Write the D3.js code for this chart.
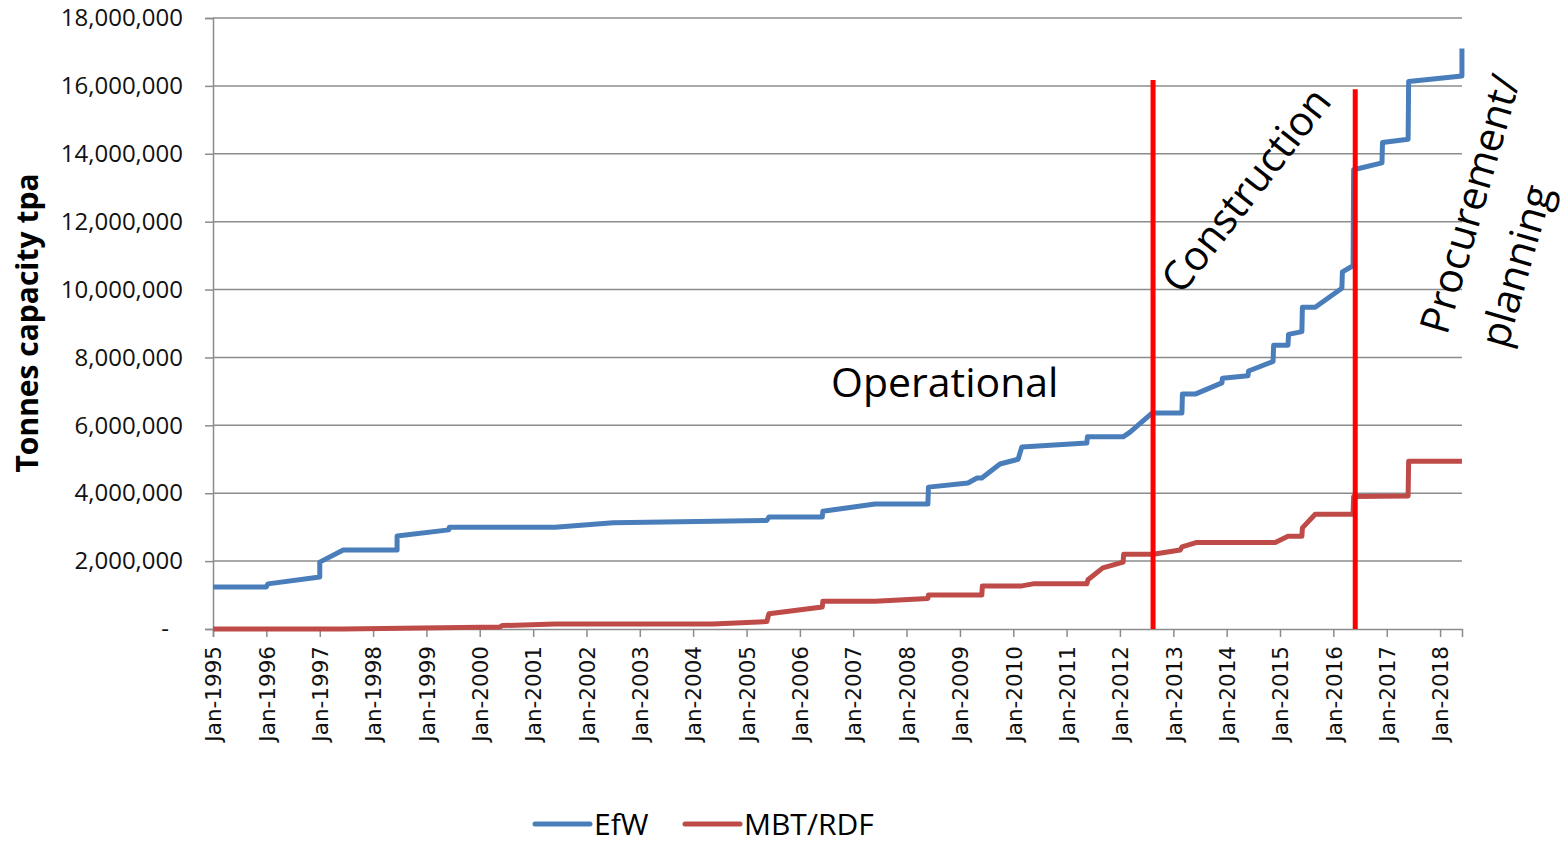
<!DOCTYPE html>
<html>
<head>
<meta charset="utf-8">
<script src="https://cdn.jsdelivr.net/npm/d3@7"></script>
<style>
  body { margin: 0; background: #fff; }
  svg { display: block; }
</style>
</head>
<body>
<div id="chart"></div>
<script>
// decimal years (pairs at the same date make the steps)
var efwYears = [1995.00, 1996.00, 1996.03, 1997.00, 1997.00, 1997.44, 1998.45, 1998.45,
    1999.42, 1999.43, 2001.41, 2002.50, 2005.38, 2005.42, 2006.42, 2006.43, 2007.41,
    2008.40, 2008.41, 2009.15, 2009.32, 2009.41, 2009.75, 2010.09, 2010.16, 2011.38,
    2011.39, 2012.06, 2012.19, 2012.60, 2013.16, 2013.17, 2013.41, 2013.91, 2013.92,
    2014.40, 2014.41, 2014.87, 2014.88, 2015.15, 2015.16, 2015.41, 2015.42, 2015.66,
    2016.16, 2016.17, 2016.37, 2016.38, 2016.91, 2016.92, 2017.40, 2017.41, 2018.41, 2018.41];
var efwValues = [1240000, 1240000, 1330000, 1530000, 1970000, 2330000, 2330000, 2740000,
    2920000, 3000000, 3000000, 3130000, 3200000, 3300000, 3300000, 3470000, 3680000,
    3680000, 4180000, 4300000, 4450000, 4450000, 4860000, 5000000, 5360000, 5480000,
    5660000, 5660000, 5800000, 6360000, 6360000, 6920000, 6920000, 7250000, 7390000,
    7460000, 7600000, 7880000, 8360000, 8360000, 8680000, 8760000, 9480000, 9480000,
    10040000, 10520000, 10700000, 13530000, 13730000, 14330000, 14430000, 16130000, 16290000, 17100000];

var mbtYears = [1995.00, 1997.44, 2000.38, 2000.42, 2001.41, 2004.37, 2005.38, 2005.42,
    2006.42, 2006.43, 2007.41, 2008.40, 2008.41, 2009.41, 2009.42, 2010.16, 2010.37,
    2011.38, 2011.40, 2011.68, 2012.06, 2012.07, 2012.62, 2013.13, 2013.16, 2013.44,
    2014.91, 2015.15, 2015.41, 2015.42, 2015.66, 2016.37, 2016.38, 2017.40, 2017.41, 2018.41];
var mbtValues = [0, 0, 60000, 100000, 150000, 150000, 220000, 450000,
    650000, 820000, 820000, 900000, 1000000, 1000000, 1270000, 1270000, 1330000,
    1330000, 1450000, 1800000, 1970000, 2200000, 2200000, 2330000, 2420000, 2550000,
    2550000, 2730000, 2730000, 2980000, 3380000, 3380000, 3900000, 3920000, 4940000, 4940000];

// stage dividers: [decimal year, top value]
var stageLines = [[2012.62, 16170000], [2016.41, 15900000]];

var yTicks = [0, 2000000, 4000000, 6000000, 8000000, 10000000, 12000000, 14000000, 16000000, 18000000];
var xTickYears = d3.range(1995, 2019);

function toDate(y) {
    var yr = Math.floor(y);
    var a = new Date(yr, 0, 1), b = new Date(yr + 1, 0, 1);
    return new Date(a.getTime() + (y - yr) * (b - a));
}

var width = 1567, height = 844;
var margin = { left: 213, right: 105, top: 18, bottom: 215 };

var svg = d3.select("#chart").append("svg")
    .attr("width", width)
    .attr("height", height);

var x = d3.scaleTime()
    .domain([new Date(1995, 0, 1), new Date(2018, 4, 31)])
    .range([margin.left, width - margin.right]);

var y = d3.scaleLinear()
    .domain([0, 18000000])
    .range([height - margin.bottom, margin.top]);

var gridColor = "#8c8c8c";

// gridlines
svg.append("g").selectAll("line")
    .data(yTicks.slice(1))
    .enter().append("line")
    .attr("x1", margin.left)
    .attr("x2", width - margin.right)
    .attr("y1", d => y(d))
    .attr("y2", d => y(d))
    .attr("stroke", gridColor)
    .attr("stroke-width", 1.5);

// y axis
var yAxis = svg.append("g")
    .attr("transform", "translate(" + margin.left + ",0)")
    .call(d3.axisLeft(y).tickValues(yTicks).tickSize(8).tickPadding(22)
        .tickFormat(d => d === 0 ? "-" : d3.format(",")(d)));
yAxis.select(".domain").attr("stroke", gridColor).attr("stroke-width", 1.5);
yAxis.selectAll(".tick line").attr("stroke", gridColor).attr("stroke-width", 1.5);
yAxis.selectAll("text")
    .attr("font-family", "'Open Sans', sans-serif")
    .attr("font-size", "24px")
    .attr("fill", "#111");
yAxis.selectAll(".tick").filter(d => d === 0).select("text").attr("dx", "-14px");

// x axis
var xAxis = svg.append("g")
    .attr("transform", "translate(0," + y(0) + ")")
    .call(d3.axisBottom(x).tickValues(xTickYears.map(d => new Date(d, 0, 1)))
        .tickSize(8).tickFormat(d3.timeFormat("Jan-%Y")));
xAxis.select(".domain").attr("stroke", gridColor).attr("stroke-width", 1.5);
xAxis.selectAll(".tick line").attr("stroke", gridColor).attr("stroke-width", 1.5);
xAxis.selectAll("text")
    .attr("font-family", "'DejaVu Sans', sans-serif")
    .attr("font-size", "21.5px")
    .attr("fill", "#111")
    .attr("text-anchor", "end")
    .attr("transform", "rotate(-90)")
    .attr("x", -17)
    .attr("y", 0)
    .attr("dy", "0.36em");

// series
var line = d3.line()
    .x(d => x(toDate(d[0])))
    .y(d => y(d[1]));

var series = [
    { name: "EfW", color: "#4a7ebb", pts: d3.zip(efwYears, efwValues) },
    { name: "MBT/RDF", color: "#be4b48", pts: d3.zip(mbtYears, mbtValues) }
];

svg.append("g").selectAll("path")
    .data(series)
    .enter().append("path")
    .attr("d", d => line(d.pts))
    .attr("fill", "none")
    .attr("stroke", d => d.color)
    .attr("stroke-width", 5)
    .attr("stroke-linejoin", "round");

// stage divider lines
svg.append("g").selectAll("line")
    .data(stageLines)
    .enter().append("line")
    .attr("x1", d => x(toDate(d[0])))
    .attr("x2", d => x(toDate(d[0])))
    .attr("y1", y(0))
    .attr("y2", d => y(d[1]))
    .attr("stroke", "#ff0000")
    .attr("stroke-width", 5);

// annotations
var ann = svg.append("g")
    .attr("font-family", "'Open Sans', sans-serif")
    .attr("font-size", "41px")
    .attr("fill", "#000");

ann.append("text")
    .attr("x", 831)
    .attr("y", 397)
    .text("Operational");

ann.append("text")
    .attr("text-anchor", "middle")
    .attr("dy", "0.35em")
    .attr("transform", "translate(1246,190) rotate(-52)")
    .text("Construction");

ann.append("text")
    .attr("text-anchor", "middle")
    .attr("dy", "0.35em")
    .attr("transform", "translate(1470,204) rotate(-74)")
    .text("Procurement/");

ann.append("text")
    .attr("text-anchor", "middle")
    .attr("dy", "0.35em")
    .attr("transform", "translate(1516,266) rotate(-74)")
    .text("planning");

// y axis title
svg.append("text")
    .attr("transform", "translate(27,323) rotate(-90)")
    .attr("text-anchor", "middle")
    .attr("dy", "0.35em")
    .attr("font-family", "'Open Sans', sans-serif")
    .attr("font-weight", "bold")
    .attr("font-size", "30px")
    .attr("fill", "#000")
    .text("Tonnes capacity tpa");

// legend
var legendItems = [
    { label: "EfW", color: "#4a7ebb", x: 535 },
    { label: "MBT/RDF", color: "#be4b48", x: 685 }
];
var legendRow = svg.append("g").selectAll("g")
    .data(legendItems)
    .enter().append("g")
    .attr("transform", d => "translate(" + d.x + ",824)");

legendRow.append("line")
    .attr("x1", 0)
    .attr("x2", 55)
    .attr("stroke", d => d.color)
    .attr("stroke-width", 5)
    .attr("stroke-linecap", "round");

legendRow.append("text")
    .attr("x", 59)
    .attr("y", 11)
    .attr("font-family", "'Open Sans', sans-serif")
    .attr("font-size", "30px")
    .attr("fill", "#000")
    .text(d => d.label);
</script>
</body>
</html>
